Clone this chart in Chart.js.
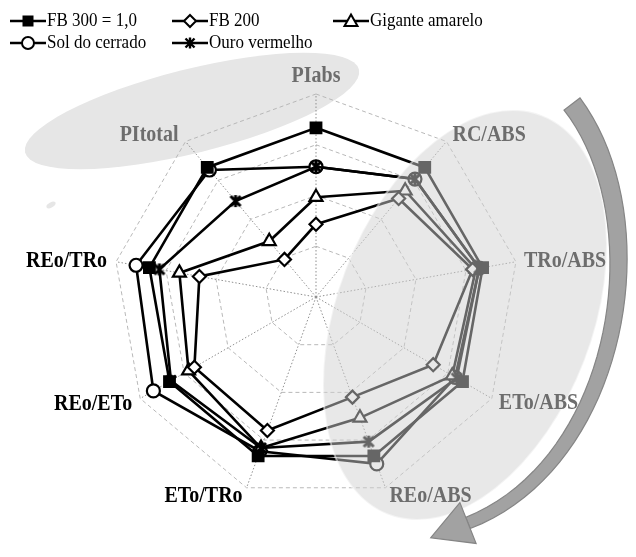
<!DOCTYPE html>
<html><head><meta charset="utf-8">
<script src="https://cdn.jsdelivr.net/npm/chart.js@4.4.1/dist/chart.umd.min.js"></script>
<style>
html,body{margin:0;padding:0;background:#fff;}
#wrap{position:relative;width:636px;height:557px;overflow:hidden;}
#c{position:absolute;left:0;top:0;}
#legend{position:absolute;left:0;top:0;width:636px;height:60px;font-family:'Liberation Serif','Times New Roman',serif;font-size:17px;color:#000;}
.item{position:absolute;display:flex;align-items:center;white-space:nowrap;height:20px;line-height:20px;}
.item svg{display:block;margin-right:1px;}
.item span{display:inline-block;transform:scaleY(1.15);transform-origin:50% 60%;}
</style></head>
<body>
<div id="wrap"><canvas id="c" width="636" height="557"></canvas><div id="legend"></div></div>
<script>
// ---- data ----
const categories = ['PIabs','RC/ABS','TRo/ABS','ETo/ABS','REo/ABS','ETo/TRo','REo/ETo','REo/TRo','PItotal'];
const seriesNames = ['FB 300 = 1,0','FB 200','Gigante amarelo','Sol do cerrado','Ouro vermelho'];
const fb300   = [1.00, 1.00, 1.00, 1.00, 1.00, 1.00, 1.00, 1.00, 1.00];
const fb200   = [0.43, 0.76, 0.94, 0.80, 0.63, 0.84, 0.83, 0.70, 0.29];
const gigante = [0.59, 0.82, 0.96, 0.93, 0.76, 0.95, 0.87, 0.82, 0.43];
const solCerrado = [0.77, 0.91, 0.98, 0.95, 1.05, 0.97, 1.11, 1.08, 0.98];
const ouroVermelho = [0.77, 0.91, 0.98, 0.96, 0.91, 0.95, 0.99, 0.94, 0.74];
const scaleTicks = [0, 0.3, 0.6, 0.9, 1.2];

// ---- styles ----
const FONT = "'Liberation Serif','Times New Roman',serif";
function starImg(){
  const c=document.createElement('canvas'); c.width=16; c.height=16;
  const g=c.getContext('2d'); g.strokeStyle='#000'; g.lineWidth=3; g.lineCap='butt';
  g.beginPath(); g.moveTo(3,3); g.lineTo(13,13); g.moveTo(13,3); g.lineTo(3,13);
  g.moveTo(8,2); g.lineTo(8,14); g.stroke(); return c;
}
const styles = [
  {pointStyle:'rect', pointRadius:7.5, bg:'#000', order:0},
  {pointStyle:'rectRot', pointRadius:6.5, bg:'#fff', order:0},
  {pointStyle:'triangle', pointRadius:7.5, bg:'#fff', order:0},
  {pointStyle:'circle', pointRadius:6.5, bg:'#fff', order:0},
  {pointStyle:starImg(), pointRadius:8, bg:'#000', order:-1}
];
const seriesData = [fb300, fb200, gigante, solCerrado, ouroVermelho];

const datasets = seriesData.map((d,i)=>({
  label: seriesNames[i], data: d, fill:false, order: styles[i].order,
  borderColor:'#000', borderWidth:2.6,
  pointStyle: styles[i].pointStyle, pointRadius: styles[i].pointRadius,
  pointBackgroundColor: styles[i].bg, pointBorderColor:'#000', pointBorderWidth:2.2,
  pointHoverRadius: styles[i].pointRadius
}));

// label placement (style): align, dx, baseline dy relative to outer vertex
const labelPlace = [
  ['center',0,-12],['left',6,0],['left',8,5.5],['left',7,10.5],['left',4,14],
  ['right',-4,14],['right',-8,11],['right',-9,5.5],['right',-7,0]
];
const labelColors = ['#6d6d6d','#6d6d6d','#6d6d6d','#6d6d6d','#6d6d6d','#000','#000','#000','#6d6d6d'];

function bez(P0,C1,C2,P3,t){
  const u=1-t;
  return [u*u*u*P0[0]+3*u*u*t*C1[0]+3*u*t*t*C2[0]+t*t*t*P3[0],
          u*u*u*P0[1]+3*u*u*t*C1[1]+3*u*t*t*C2[1]+t*t*t*P3[1]];
}

const decor = {
  id:'decor',
  beforeDraw(chart){
    const ctx=chart.ctx; ctx.save();
    ctx.fillStyle='#e6e6e6';
    ctx.beginPath(); ctx.ellipse(192,111,172,42,-14*Math.PI/180,0,Math.PI*2); ctx.fill();
    ctx.beginPath(); ctx.ellipse(51,205,5,2.5,-0.5,0,Math.PI*2); ctx.fill();
    ctx.restore();
  },
  afterDatasetsDraw(chart){
    const ctx=chart.ctx; ctx.save();
    // translucent ellipse on the right
    ctx.fillStyle='rgba(208,208,208,0.49)';
    ctx.beginPath(); ctx.ellipse(465,315,128,214,21*Math.PI/180,0,Math.PI*2); ctx.fill();
    ctx.strokeStyle='rgba(255,255,255,0.5)'; ctx.lineWidth=2; ctx.stroke();
    // curved arrow (tapered band)
    const P0=[572,104], C1=[660,220], C2=[622,462], P3=[468,523];
    const left=[], right=[];
    const N=40;
    for(let k=0;k<=N;k++){
      const t=k/N, p=bez(P0,C1,C2,P3,t);
      const q=bez(P0,C1,C2,P3,Math.min(1,t+0.001)), r0=bez(P0,C1,C2,P3,Math.max(0,t-0.001));
      let tx=q[0]-r0[0], ty=q[1]-r0[1]; const L=Math.hypot(tx,ty); tx/=L; ty/=L;
      const w=(20-8*t)/2;
      left.push([p[0]-ty*w,p[1]+tx*w]); right.push([p[0]+ty*w,p[1]-tx*w]);
    }
    ctx.fillStyle='#a2a2a2'; ctx.strokeStyle='#858585'; ctx.lineWidth=1.2;
    ctx.beginPath();
    left.forEach((p,k)=>k?ctx.lineTo(p[0],p[1]):ctx.moveTo(p[0],p[1]));
    for(let k=right.length-1;k>=0;k--) ctx.lineTo(right[k][0],right[k][1]);
    ctx.closePath(); ctx.fill(); ctx.stroke();
    let dx=P3[0]-C2[0], dy=P3[1]-C2[1]; const L=Math.hypot(dx,dy); dx/=L; dy/=L;
    const px=-dy, py=dx;
    ctx.beginPath();
    ctx.moveTo(P3[0]+dx*40,P3[1]+dy*40);
    ctx.lineTo(P3[0]+px*22,P3[1]+py*22);
    ctx.lineTo(P3[0]-px*22,P3[1]-py*22);
    ctx.closePath(); ctx.fill(); ctx.stroke();
    // point labels
    const s=chart.scales.r;
    ctx.font='bold 20px '+FONT; ctx.textBaseline='alphabetic';
    categories.forEach((lab,i)=>{
      const p=s.getPointPosition(i, s.drawingArea);
      const [al,ox,oy]=labelPlace[i];
      ctx.save();
      ctx.translate(p.x+ox,p.y+oy); ctx.scale(1,1.12);
      ctx.textAlign=al; ctx.fillStyle=labelColors[i];
      ctx.fillText(lab,0,0);
      ctx.restore();
    });
    ctx.restore();
  }
};

new Chart(document.getElementById('c'), {
  type:'radar',
  data:{labels:categories, datasets},
  options:{
    responsive:false, animation:false, devicePixelRatio:1,
    layout:{padding:{left:113,right:117,top:94,bottom:57}},
    plugins:{legend:{display:false}, tooltip:{enabled:false}},
    elements:{line:{tension:0}},
    scales:{r:{
      min:scaleTicks[0], max:scaleTicks[scaleTicks.length-1],
      ticks:{display:false, stepSize:scaleTicks[1]-scaleTicks[0]},
      pointLabels:{display:false},
      grid:{color:'#b8b8b8', lineWidth:1},
      border:{dash:[4,3]},
      angleLines:{color:'#8f8f8f', lineWidth:1, borderDash:[1.5,2]}
    }}
  },
  plugins:[decor]
});

// ---- HTML legend ----
const legendPos = [[10,11],[172,11],[333,11],[10,32.5],[172,32.5]];
function markerSvg(i){
  const m = i===0 ? '<rect x="12.5" y="4.5" width="11" height="11" fill="#000"/>' :
    i===1 ? '<polygon points="18,4 24,10 18,16 12,10" fill="#fff" stroke="#000" stroke-width="2"/>' :
    i===2 ? '<polygon points="18,3.5 24.5,15 11.5,15" fill="#fff" stroke="#000" stroke-width="2"/>' :
    i===3 ? '<circle cx="18" cy="10" r="6" fill="#fff" stroke="#000" stroke-width="2"/>' :
    '<path d="M13.5 5.5 L22.5 14.5 M22.5 5.5 L13.5 14.5 M18 4.5 L18 15.5" stroke="#000" stroke-width="2.4"/>';
  return '<svg width="36" height="20"><line x1="0" y1="10" x2="36" y2="10" stroke="#000" stroke-width="2.5"/>'+m+'</svg>';
}
const lg=document.getElementById('legend');
seriesNames.forEach((n,i)=>{
  const d=document.createElement('div'); d.className='item';
  d.style.left=legendPos[i][0]+'px'; d.style.top=legendPos[i][1]+'px';
  d.innerHTML=markerSvg(i)+'<span>'+n+'</span>';
  lg.appendChild(d);
});
</script>
</body></html>
